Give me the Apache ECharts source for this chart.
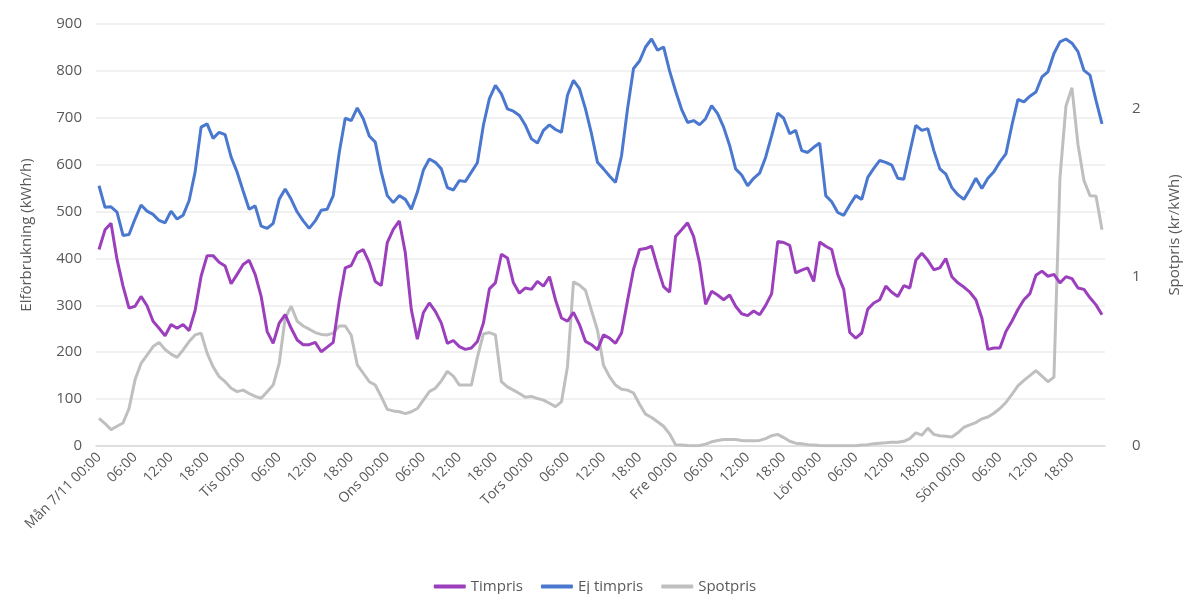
<!DOCTYPE html>
<html>
<head>
<meta charset="utf-8">
<script src="https://cdn.jsdelivr.net/npm/echarts@6/dist/echarts.min.js"></script>
<style>
  html, body { margin: 0; padding: 0; background: #ffffff; }
  #chart { width: 1190px; height: 594px; }
</style>
</head>
<body>
<div id="chart"></div>
<script>
// Weekday names that open each day on the hourly axis
const dayLabels = ['Mån 7/11', 'Tis', 'Ons', 'Tors', 'Fre', 'Lör', 'Sön'];

// Hourly consumption, kWh/h – customers on hourly pricing
const timpris = [
  419,461,475,398,341,294,298,319,299,266,251,235,259,251,259,246,289,362,406,406,392,384,346,366,
  387,396,366,319,244,219,262,280,251,226,216,216,221,201,211,221,309,380,385,412,419,391,351,342,
  434,462,480,412,291,228,284,305,287,262,219,225,212,206,209,223,262,335,348,409,401,348,326,337,
  334,351,341,361,312,273,266,285,259,223,216,205,237,230,219,241,310,377,419,421,426,381,340,328,
  447,461,476,447,390,302,330,322,312,322,298,282,278,288,280,300,325,436,434,428,369,375,380,351,
  435,426,419,366,334,242,230,241,292,305,312,341,328,319,342,337,396,411,396,376,380,400,361,348,
  339,328,312,273,206,209,209,244,266,291,312,325,364,373,362,366,348,361,357,337,334,316,301,280
];

// Hourly consumption, kWh/h – customers without hourly pricing
const ejTimpris = [
  555,509,510,499,449,451,484,514,501,494,481,476,501,484,492,523,584,680,687,656,669,664,616,584,
  544,505,512,469,464,475,526,548,526,499,480,464,480,503,505,534,626,699,694,721,698,661,648,584,
  534,519,534,526,505,541,588,612,605,591,551,546,566,564,584,604,684,741,769,751,719,714,705,684,
  655,646,673,685,675,669,748,780,762,719,666,605,591,576,562,619,719,805,821,851,868,844,851,800,
  757,718,690,694,685,698,726,709,680,641,591,578,555,571,582,616,662,710,699,666,673,630,626,637,
  646,534,521,498,492,514,534,526,573,592,609,605,599,571,569,627,684,673,677,630,591,580,551,536,
  526,547,571,549,571,585,606,623,684,739,734,746,755,787,798,837,862,868,859,841,801,791,737,687
];

// Spot price, kr/kWh
const spotpris = [
  0.164,0.133,0.097,0.117,0.136,0.222,0.392,0.489,0.539,0.589,0.614,0.572,0.544,0.525,0.569,0.619,0.658,0.669,0.550,0.469,0.411,0.381,0.342,0.322,
  0.331,0.311,0.294,0.283,0.322,0.361,0.489,0.758,0.828,0.739,0.711,0.692,0.672,0.661,0.658,0.669,0.711,0.711,0.656,0.481,0.431,0.381,0.361,0.292,
  0.217,0.208,0.203,0.192,0.203,0.222,0.272,0.322,0.342,0.386,0.442,0.414,0.361,0.361,0.361,0.525,0.664,0.672,0.658,0.381,0.350,0.331,0.311,0.289,
  0.294,0.281,0.272,0.253,0.233,0.261,0.469,0.972,0.953,0.922,0.803,0.686,0.478,0.411,0.361,0.336,0.331,0.314,0.247,0.189,0.169,0.144,0.117,0.072,
  0.008,0.006,0.003,0.001,0.003,0.011,0.025,0.033,0.039,0.039,0.039,0.033,0.031,0.031,0.033,0.044,0.061,0.069,0.050,0.028,0.017,0.014,0.008,0.006,
  0.003,0.001,0.001,0.001,0.001,0.001,0.001,0.006,0.008,0.014,0.017,0.019,0.022,0.022,0.028,0.044,0.078,0.064,0.106,0.069,0.061,0.058,0.053,0.078,
  0.111,0.125,0.139,0.161,0.172,0.194,0.222,0.258,0.306,0.356,0.389,0.417,0.447,0.414,0.381,0.408,1.589,2.014,2.122,1.786,1.572,1.483,1.481,1.281
];

// One category per hour: "Mån 7/11 00:00", "01:00", ...
const categories = [];
dayLabels.forEach(function (day) {
  for (let h = 0; h < 24; h++) {
    const hh = (h < 10 ? '0' : '') + h + ':00';
    categories.push(h === 0 ? day + ' ' + hh : hh);
  }
});

const font = '"Open Sans", "Noto Sans", sans-serif';
const textColor = '#595959';

const chart = echarts.init(document.getElementById('chart'), null, { renderer: 'canvas' });

chart.setOption({
  animation: false,
  backgroundColor: '#ffffff',
  textStyle: { fontFamily: font, color: textColor },
  grid: { left: 96, right: 71, top: 24, bottom: 148, containLabel: false },
  legend: {
    data: ['Timpris', 'Ej timpris', 'Spotpris'],
    left: 'center',
    top: 574,
    icon: 'roundRect',
    itemWidth: 32,
    itemHeight: 4,
    itemGap: 18,
    textStyle: { fontFamily: font, fontSize: 15, color: textColor }
  },
  xAxis: {
    type: 'category',
    data: categories,
    boundaryGap: true,
    axisLine: { show: true, lineStyle: { color: '#d9d9d9', width: 1.5 } },
    axisTick: { show: false },
    splitLine: { show: false },
    axisLabel: {
      interval: 5,
      rotate: 45,
      margin: 9,
      fontFamily: font,
      fontSize: 14,
      color: textColor
    }
  },
  yAxis: [
    {
      type: 'value',
      min: 0,
      max: 900,
      interval: 100,
      name: 'Elförbrukning (kWh/h)',
      nameLocation: 'middle',
      nameGap: 62,
      nameRotate: 90,
      nameTextStyle: { fontFamily: font, fontSize: 15, color: textColor },
      axisLine: { show: false },
      axisTick: { show: false },
      axisLabel: { fontFamily: font, fontSize: 15, color: textColor, margin: 14 },
      splitLine: { show: true, lineStyle: { color: '#ececec', width: 1.5 } }
    },
    {
      type: 'value',
      min: 0,
      max: 2.5,
      interval: 1,
      position: 'right',
      name: 'Spotpris (kr/kWh)',
      nameLocation: 'middle',
      nameGap: 62,
      nameRotate: 90,
      nameTextStyle: { fontFamily: font, fontSize: 15, color: textColor },
      axisLine: { show: false },
      axisTick: { show: false },
      axisLabel: { fontFamily: font, fontSize: 15, color: textColor, margin: 27, showMaxLabel: false },
      splitLine: { show: false }
    }
  ],
  series: [
    {
      name: 'Timpris',
      type: 'line',
      yAxisIndex: 0,
      data: timpris,
      symbol: 'none',
      smooth: false,
      lineStyle: { color: '#9b3fbd', width: 3 },
      itemStyle: { color: '#9b3fbd' },
      z: 3
    },
    {
      name: 'Ej timpris',
      type: 'line',
      yAxisIndex: 0,
      data: ejTimpris,
      symbol: 'none',
      lineStyle: { color: '#4a78cf', width: 3 },
      itemStyle: { color: '#4a78cf' },
      z: 3
    },
    {
      name: 'Spotpris',
      type: 'line',
      yAxisIndex: 1,
      data: spotpris,
      symbol: 'none',
      lineStyle: { color: '#bfbfbf', width: 3 },
      itemStyle: { color: '#bfbfbf' },
      z: 2
    }
  ]
});
</script>
</body>
</html>
